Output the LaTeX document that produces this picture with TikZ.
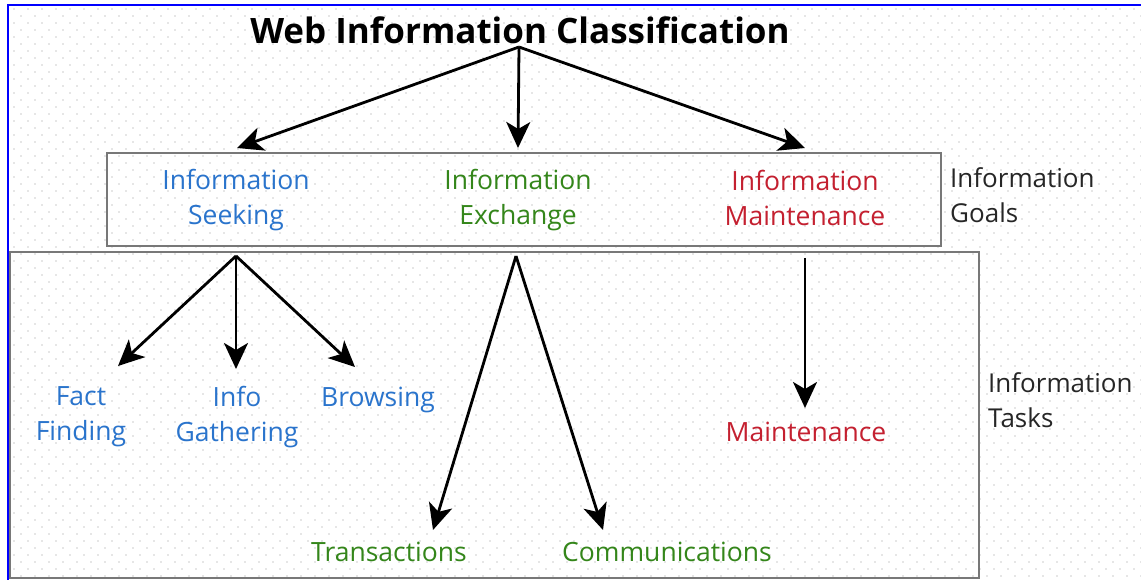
\documentclass[tikz,border=0pt]{standalone}
\usepackage{fontspec}
\setmainfont{Open Sans}
\usetikzlibrary{arrows.meta}
\definecolor{seekblue}{RGB}{42,116,204}
\definecolor{xchgreen}{RGB}{52,134,26}
\definecolor{mntred}{RGB}{196,32,48}
\definecolor{framegray}{RGB}{120,120,120}
\definecolor{dotgray}{RGB}{205,205,205}
\tikzset{
  lbl/.style={inner sep=0pt, align=center, font=\fontsize{26.5}{35}\selectfont},
  sidelbl/.style={inner sep=0pt, align=left, anchor=west, font=\fontsize{26}{35}\selectfont, text=black!85},
  arr/.style={line width=2.8pt, -{Stealth[length=26pt,width=24pt,inset=7pt]}},
  groupbox/.style={draw=framegray, line width=1.3pt}
}
\begin{document}
\begin{tikzpicture}[x=1pt,y=-1pt]
\useasboundingbox (0,0) rectangle (1141,580);
% dotted paper background (staggered grid)
\fill[white] (0,0) rectangle (1141,580);
\foreach \j in {0,...,81}{
  \pgfmathsetmacro{\yy}{9+7*\j}
  \pgfmathsetmacro{\xo}{14+7*mod(\j,2)}
  \foreach \i in {0,...,80}{
    \fill[dotgray] (\xo+14*\i,\yy) circle (0.8pt);
  }
}
% window edge
\draw[blue, line width=2pt] (8,580) -- (8,5) -- (1141,5);

% group frames
\draw[groupbox] (107,153) rectangle (941,246);
\draw[groupbox] (10,252) rectangle (979,578);

% title
\node[inner sep=0pt, font=\bfseries\fontsize{35}{40}\selectfont] (title) at (520,30) {Web Information Classification};

% information goals
\node[lbl, text=seekblue] (seek) at (236,200) {Information\\Seeking};
\node[lbl, text=xchgreen] (exch) at (518,200) {Information\\Exchange};
\node[lbl, text=mntred] (maint) at (805,198) {Information\\Maintenance};
\node[sidelbl] (goals) at (950,195) {Information\\Goals};

% information tasks
\node[lbl, text=seekblue] (fact) at (81,417) {Fact\\Finding};
\node[lbl, text=seekblue] (gather) at (237,417) {Info\\Gathering};
\node[lbl, text=seekblue] (browse) at (378,400) {Browsing};
\node[lbl, text=xchgreen] (trans) at (389,552) {Transactions};
\node[lbl, text=xchgreen] (comm) at (667,552) {Communications};
\node[lbl, text=mntred] (mnt) at (806,432) {Maintenance};
\node[sidelbl] (tasks) at (988,400) {Information\\Tasks};

% branch points and arrow ends
\coordinate (titlehub) at (519,47);
\coordinate (seekhub) at (236,256);
\coordinate (exchhub) at (516,256);
\coordinate (mainthub) at (805,258);
\coordinate (seektip) at (237,148);
\coordinate (exchtip) at (518,148);
\coordinate (mainttip) at (805,148);
\coordinate (facttip) at (118,366);
\coordinate (gathertip) at (236,369);
\coordinate (browsetip) at (355,367);
\coordinate (transtip) at (433,530);
\coordinate (commtip) at (603,530);
\coordinate (mnttip) at (805,408);

% connectors
\draw[arr] (titlehub) -- (seektip);
\draw[arr] (titlehub) -- (exchtip);
\draw[arr] (titlehub) -- (mainttip);
\draw[arr] (seekhub) -- (facttip);
\draw[arr] (seekhub) -- (gathertip);
\draw[arr] (seekhub) -- (browsetip);
\draw[arr] (exchhub) -- (transtip);
\draw[arr] (exchhub) -- (commtip);
\draw[arr] (mainthub) -- (mnttip);
\end{tikzpicture}
\end{document}
